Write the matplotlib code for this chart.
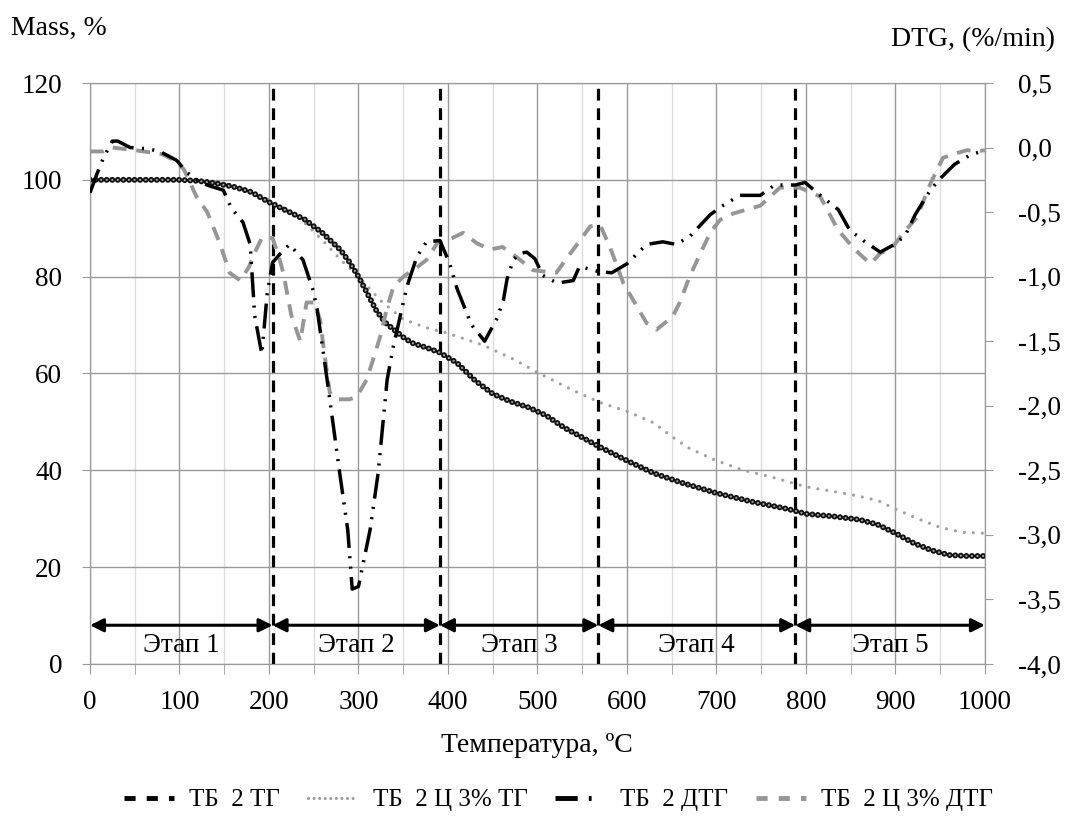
import matplotlib
matplotlib.use("Agg")
import matplotlib.pyplot as plt
from matplotlib.lines import Line2D
from matplotlib.ticker import MultipleLocator

plt.rcParams['font.family'] = ['Liberation Serif', 'DejaVu Serif']
plt.rcParams['lines.scale_dashes'] = False

# --- data ---
# mass curve, sample TB 2
t_tg1 = [0, 50, 100, 120, 140, 160, 180, 200, 220, 240, 260, 280, 290, 300, 310, 320, 330,
         340, 350, 360, 375, 390, 410, 430, 450, 470, 490, 510, 530, 550, 570, 600, 630,
         660, 700, 740, 780, 800, 830, 860, 880, 900, 920, 940, 960, 980, 1000]
m_tg1 = [100, 100, 100, 99.8, 99.3, 98.6, 97.5, 95.4, 93.6, 91.8, 89, 85.5, 83, 80, 76.5,
         73, 70.5, 69, 67.5, 66.3, 65.4, 64.4, 62.2, 58.6, 55.8, 54.2, 53, 51.3, 48.8,
         46.8, 44.8, 42, 39.4, 37.5, 35.3, 33.5, 32, 31, 30.5, 29.8, 28.8, 27, 25, 23.5,
         22.5, 22.3, 22.3]

# mass curve, sample TB 2 C 3%
t_tg2 = [0, 50, 100, 130, 150, 170, 190, 210, 235, 260, 280, 300, 325, 350, 375, 400, 440,
         475, 500, 540, 570, 600, 630, 650, 670, 700, 730, 760, 800, 850, 880, 900, 925,
         950, 975, 1000]
m_tg2 = [100, 100, 100, 99.8, 99.2, 98.2, 96.8, 95, 92, 87.5, 83.5, 80, 75, 71.2, 69.5,
         68.3, 65.8, 62.8, 60.2, 56.5, 54, 52.2, 49.8, 47, 44.5, 42, 40, 38.7, 36.6, 35,
         33.8, 32, 30, 28.2, 27.2, 27]

# DTG, sample TB 2
t_dtg1 = [0, 8, 15, 25, 31, 45, 65, 78, 97, 108, 123, 135, 149, 158, 171, 179, 181, 184,
          192, 198, 204, 213, 223, 238, 249, 254, 265, 279, 288, 293, 300, 313, 322, 332,
          339, 354, 365, 376, 391, 402, 410, 418, 426, 441, 455, 462, 466, 473, 480, 488,
          497, 506, 522, 540, 547, 568, 583, 600, 622, 640, 655, 670, 693, 707, 726, 749,
          765, 788, 799, 816, 836, 849, 864, 883, 899, 911, 922, 939, 950, 966, 983, 1000]
v_dtg1 = [-0.35, -0.2, -0.08, 0.05, 0.05, 0.0, -0.01, -0.03, -0.1, -0.19, -0.27, -0.3,
          -0.33, -0.47, -0.58, -0.75, -0.97, -1.3, -1.6, -1.13, -0.89, -0.82, -0.75, -0.87,
          -1.1, -1.26, -1.8, -2.52, -2.96, -3.42, -3.4, -2.96, -2.52, -1.8, -1.54, -1.08,
          -0.85, -0.73, -0.72, -0.9, -1.09, -1.23, -1.37, -1.5, -1.32, -1.18, -1.02, -0.87,
          -0.82, -0.81, -0.86, -0.99, -1.05, -1.03, -0.92, -0.96, -0.97, -0.9, -0.75,
          -0.73, -0.75, -0.69, -0.52, -0.45, -0.37, -0.37, -0.29, -0.29, -0.27, -0.37,
          -0.48, -0.64, -0.72, -0.81, -0.75, -0.68, -0.52, -0.33, -0.24, -0.13, -0.06, -0.02]

# DTG, sample TB 2 C 3%
t_dtg2 = [0, 15, 25, 50, 80, 95, 105, 119, 131, 145, 156, 168, 178, 185, 192, 204, 212, 216,
          225, 235, 242, 250, 257, 262, 268, 276, 290, 298, 309, 316, 324, 332, 339, 350,
          365, 376, 388, 399, 417, 432, 447, 461, 477, 495, 521, 540, 559, 570, 581, 596,
          611, 622, 633, 651, 659, 670, 682, 693, 704, 719, 749, 771, 793, 816, 836, 846,
          853, 872, 883, 897, 909, 924, 939, 953, 965, 980, 991, 1000]
v_dtg2 = [-0.03, -0.03, 0.0, -0.02, -0.05, -0.1, -0.17, -0.38, -0.5, -0.74, -0.97, -1.03,
          -0.92, -0.8, -0.7, -0.7, -0.87, -0.97, -1.3, -1.5, -1.2, -1.2, -1.33, -1.6, -1.9,
          -1.95, -1.95, -1.93, -1.8, -1.65, -1.47, -1.24, -1.08, -1.0, -0.93, -0.87, -0.74,
          -0.72, -0.66, -0.74, -0.79, -0.77, -0.85, -0.95, -0.97, -0.79, -0.61, -0.6, -0.77,
          -1.05, -1.23, -1.36, -1.41, -1.31, -1.2, -1.0, -0.82, -0.66, -0.56, -0.51, -0.45,
          -0.31, -0.31, -0.38, -0.64, -0.72, -0.78, -0.9, -0.82, -0.77, -0.66, -0.54, -0.28,
          -0.08, -0.05, -0.02, -0.03, -0.02]

stage_bounds = [0, 204, 391, 568, 788, 1000]
stage_names = ['Этап 1', 'Этап 2', 'Этап 3', 'Этап 4', 'Этап 5']
labels = ['ТБ  2 ТГ', 'ТБ  2 Ц 3% ТГ', 'ТБ  2 ДТГ', 'ТБ  2 Ц 3% ДТГ']

FS = 19.5
grid_c = '#9a9a9a'

fig = plt.figure(figsize=(10.7, 8.18), dpi=100)
ax = fig.add_axes([0.0841, 0.1883, 0.8364, 0.7102])
ax2 = ax.twinx()

# grid
ax.set_xlim(0, 1000)
ax.set_ylim(0, 120)
ax.xaxis.set_major_locator(MultipleLocator(100))
ax.xaxis.set_minor_locator(MultipleLocator(50))
ax.yaxis.set_major_locator(MultipleLocator(20))
ax.grid(True, which='major', color=grid_c, lw=1)
ax.grid(True, which='minor', axis='x', color='#dddddd', lw=1)
ax.set_axisbelow(True)

# stage separators
for b in stage_bounds[1:-1]:
    ax.axvline(b, color='black', lw=2.3, ls=(0, (8.5, 5.5)), zorder=3)

# stage arrows
for i, name in enumerate(stage_names):
    a, b = stage_bounds[i], stage_bounds[i + 1]
    ax.annotate('', xy=(b, 8), xytext=(a, 8),
                arrowprops=dict(arrowstyle='<|-|>', color='black', lw=2.2,
                                mutation_scale=20, shrinkA=0, shrinkB=0), zorder=4)
    ax.text((a + b) / 2, 3.9, name, ha='center', va='center', fontsize=FS)

# TG curves
ax.plot(t_tg2, m_tg2, color='#a0a0a0', lw=2.3, ls=(0, (0.01, 6.5)),
        dash_capstyle='round', zorder=5)
ax.plot(t_tg1, m_tg1, color='#111111', lw=4.3, ls=(0, (0.01, 4.0)),
        dash_capstyle='round', zorder=6)
ax.plot(t_tg1, m_tg1, color='#a8a8a8', lw=1.6, ls=(0, (0.01, 4.0)),
        dash_capstyle='round', zorder=7)

# DTG curves
ax2.set_ylim(-4.0, 0.5)
ax2.plot(t_dtg2, v_dtg2, color='#969696', lw=2.8, ls=(0, (10, 7)), zorder=5)
ax2.plot(t_dtg1, v_dtg1, color='black', lw=2.5, ls=(0, (18, 6, 1.5, 6, 1.5, 6)), zorder=6)

ax2.set_yticks([0.5 - 0.5 * i for i in range(10)])
ax2.set_yticklabels([f"{0.5 - 0.5 * i:.1f}".replace('.', ',') for i in range(10)])

for a in (ax, ax2):
    for s in a.spines.values():
        s.set_color(grid_c)
    a.tick_params(which='both', direction='out', length=6, color=grid_c,
                  labelsize=FS)
ax.tick_params(axis='x', which='both', length=7, pad=12)
ax.tick_params(axis='y', pad=14)
ax2.tick_params(axis='y', pad=18)

fig.text(0.010, 0.965, 'Mass, %', fontsize=20, va='center')
fig.text(0.986, 0.951, 'DTG, (%/min)', fontsize=20, va='center', ha='right')
fig.text(0.502, 0.089, 'Температура, ºC', fontsize=20, ha='center', va='center')

handles = [
    Line2D([], [], color='black', lw=3.5, ls=(0, (8, 8))),
    Line2D([], [], color='#a0a0a0', lw=2.3, ls=(0, (0.01, 4)), dash_capstyle='round'),
    Line2D([], [], color='black', lw=3.5, ls=(0, (16, 8, 2, 20))),
    Line2D([], [], color='#969696', lw=3.5, ls=(0, (8, 8))),
]
fig.legend(handles, labels, loc='center', bbox_to_anchor=(0.522, 0.022), ncol=4,
           frameon=False, fontsize=18, handlelength=2.0, handletextpad=0.6,
           columnspacing=1.1)

fig.savefig('out.png', dpi=100)
